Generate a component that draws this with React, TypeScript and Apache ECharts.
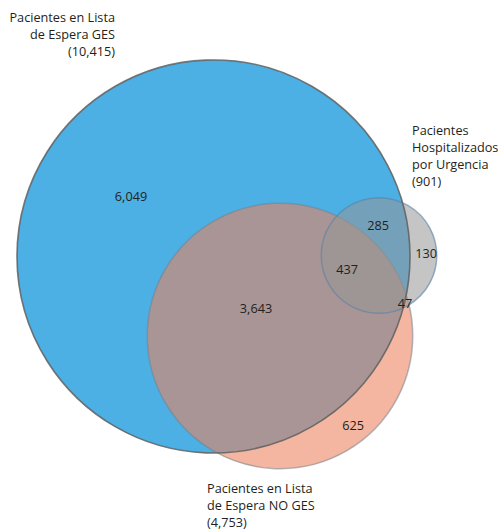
import React, { useEffect, useRef } from "react";
import * as echarts from "echarts";

// Sets (circle areas proportional to totals)
const setLabels = [
  "Pacientes en Lista\nde Espera GES\n(10,415)",
  "Pacientes en Lista\nde Espera NO GES\n(4,753)",
  "Pacientes\nHospitalizados\npor Urgencia\n(901)",
];
const setTotals = [10415, 4753, 901];

// Region counts
const regionNames = [
  "Solo GES",
  "GES y Urgencia",
  "Solo Urgencia",
  "GES, NO GES y Urgencia",
  "NO GES y Urgencia",
  "GES y NO GES",
  "Solo NO GES",
];
const regionValues = [6049, 285, 130, 437, 47, 3643, 625];

// Layout (pixel space of the hidden axes)
const circleCenters: number[][] = [
  [213.5, 256.5],
  [280, 336],
  [379, 255.5],
];
const regionLabelPos: number[][] = [
  [131, 196],
  [378, 225],
  [426, 253],
  [347, 269],
  [405, 303],
  [256, 308],
  [353, 425],
];
const setLabelPos: number[][] = [
  [115, 8.5],
  [207, 479.5],
  [412, 121.5],
];
const setLabelAlign = ["right", "left", "left"];
const radiusScale = 196.5 / Math.sqrt(10415);

const fills = ["#4cb0e4", "rgba(236,129,91,0.58)", "rgba(150,150,150,0.55)"];
const strokes = ["#6b6b6b", "rgba(120,130,140,0.55)", "rgba(90,130,165,0.6)"];

const fmt = (n: number) => n.toLocaleString("en-US");
const FONT = "'Open Sans', 'Noto Sans', sans-serif";

export default function App() {
  const ref = useRef<HTMLDivElement>(null);
  useEffect(() => {
    document.body.style.margin = "0";
    const chart = echarts.init(ref.current!, null, { renderer: "svg" });
    const circleData = setTotals.map((t, i) => ({
      name: setLabels[i].split("\n").slice(0, -1).join(" "),
      value: [circleCenters[i][0], circleCenters[i][1], t, i],
    }));
    chart.setOption({
      animation: false,
      backgroundColor: "#ffffff",
      grid: { left: 0, right: 0, top: 0, bottom: 0 },
      xAxis: { type: "value", min: 0, max: 498, show: false },
      yAxis: { type: "value", min: 0, max: 530, inverse: true, show: false },
      series: [
        {
          type: "custom",
          silent: true,
          data: circleData,
          renderItem: (params: any, api: any) => {
            const i = api.value(3);
            const p = api.coord([api.value(0), api.value(1)]);
            const unit = api.size([1, 1])[0];
            const r = radiusScale * Math.sqrt(api.value(2)) * unit;
            return {
              type: "circle",
              shape: { cx: p[0], cy: p[1], r },
              style: {
                fill: fills[i],
                stroke: i === 0 ? null : strokes[i],
                lineWidth: 1.5,
              },
              z2: i,
            };
          },
        },
        {
          // GES outline drawn on top
          type: "custom",
          silent: true,
          data: [circleData[0]],
          z: 3,
          renderItem: (params: any, api: any) => {
            const p = api.coord([api.value(0), api.value(1)]);
            const unit = api.size([1, 1])[0];
            const r = radiusScale * Math.sqrt(api.value(2)) * unit;
            return {
              type: "circle",
              shape: { cx: p[0], cy: p[1], r },
              style: { fill: null, stroke: "rgba(95,95,95,0.85)", lineWidth: 1.6 },
            };
          },
        },
        {
          type: "custom",
          silent: true,
          z: 4,
          data: regionValues.map((v, i) => ({
            name: regionNames[i],
            value: [regionLabelPos[i][0], regionLabelPos[i][1], v],
          })),
          renderItem: (params: any, api: any) => {
            const p = api.coord([api.value(0), api.value(1)]);
            return {
              type: "text",
              x: p[0],
              y: p[1],
              style: {
                text: fmt(api.value(2)),
                fill: "#231f20",
                font: `12.7px ${FONT}`,
                align: "center",
                verticalAlign: "middle",
              },
            };
          },
        },
        {
          type: "custom",
          silent: true,
          z: 4,
          data: setLabels.map((l, i) => ({
            name: l,
            value: [setLabelPos[i][0], setLabelPos[i][1], i],
          })),
          renderItem: (params: any, api: any) => {
            const i = api.value(2);
            const p = api.coord([api.value(0), api.value(1)]);
            return {
              type: "text",
              x: p[0],
              y: p[1],
              style: {
                text: setLabels[i],
                fill: "#231f20",
                font: `12.7px ${FONT}`,
                lineHeight: 17,
                align: setLabelAlign[i],
                verticalAlign: "top",
              },
            };
          },
        },
      ],
    });
    return () => chart.dispose();
  }, []);
  return (
    <div
      ref={ref}
      style={{ position: "absolute", left: 0, top: 0, width: 498, height: 530 }}
    />
  );
}
